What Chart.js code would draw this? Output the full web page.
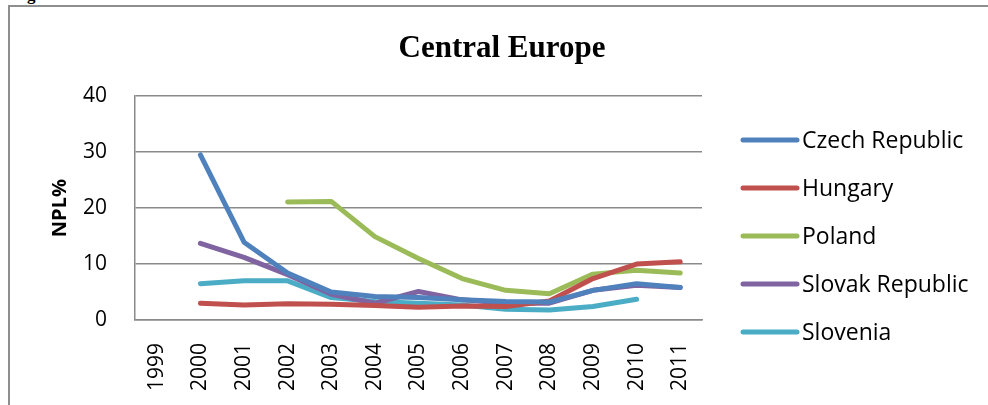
<html lang="en">

<head>
    <meta charset="UTF-8">
    <title>Central Europe</title>
    <script src="https://cdn.jsdelivr.net/npm/chart.js"></script>
    <style>
        body { margin: 0; overflow: hidden; background: #fff; }
    </style>
</head>

<body>
    <div style="position:absolute; left:12px; top:-15px; font:bold 17px 'Liberation Serif';">Figure</div>
    <div style="position:absolute; left:8px; top:5px; width:990px; height:410px; border-left:2px solid #8e8e8e; border-top:2px solid #8e8e8e;"></div>
    <canvas id="myChart" width="988" height="405" style="position:absolute; left:8px; top:0;"></canvas>
    <script>
        // 데이터
        const years = ['1999', '2000', '2001', '2002', '2003', '2004', '2005', '2006', '2007', '2008', '2009', '2010', '2011'];
        const czech = [null, 29.5, 13.9, 8.4, 5.0, 4.2, 4.0, 3.6, 3.3, 3.2, 5.3, 6.5, 5.8];
        const hungary = [null, 3.0, 2.7, 2.9, 2.8, 2.6, 2.3, 2.5, 2.4, 3.4, 7.4, 10.0, 10.4];
        const poland = [null, null, null, 21.1, 21.2, 14.9, 11.0, 7.4, 5.3, 4.7, 8.2, 8.9, 8.4];
        const slovak = [null, 13.7, 11.2, 8.1, 4.6, 3.0, 5.1, 3.6, 3.0, 3.0, 5.3, 6.2, 5.8];
        const slovenia = [null, 6.5, 7.0, 7.0, 4.0, 3.3, 3.0, 2.7, 1.9, 1.8, 2.4, 3.7, null];
        const yTicks = [0, 10, 20, 30, 40];

        const names = ['Czech Republic', 'Hungary', 'Poland', 'Slovak Republic', 'Slovenia'];
        const colors = ['#4F81BD', '#C0504D', '#9BBB59', '#8064A2', '#4BACC6'];
        const series = [czech, hungary, poland, slovak, slovenia];

        Chart.defaults.font.family = "'Open Sans'";
        Chart.defaults.color = '#000';

        // 오른쪽 범례 직접 그리기
        const sideLegend = {
            id: 'sideLegend',
            afterDraw(chart) {
                const ctx = chart.ctx;
                const x0 = chart.chartArea.right + 41;
                ctx.save();
                chart.data.datasets.forEach((ds, i) => {
                    const y = 140 + i * 48;
                    ctx.strokeStyle = ds.borderColor;
                    ctx.lineWidth = 5;
                    ctx.lineCap = 'round';
                    ctx.beginPath();
                    ctx.moveTo(x0, y);
                    ctx.lineTo(x0 + 54, y);
                    ctx.stroke();
                    ctx.fillStyle = '#000';
                    ctx.font = "23px 'Open Sans'";
                    ctx.textBaseline = 'middle';
                    ctx.fillText(ds.label, x0 + 59, y + 1);
                });
                ctx.restore();
            }
        };

        const data = {
            labels: years,
            datasets: series.map((s, i) => ({
                label: names[i],
                data: s,
                borderColor: colors[i],
                backgroundColor: colors[i],
                borderWidth: 5,
                borderJoinStyle: 'round',
                borderCapStyle: 'round',
                pointRadius: 0,
                tension: 0,
                spanGaps: false,
            }))
        };

        const options = {
            responsive: false,
            animation: false,
            layout: { padding: 0 },
            plugins: {
                legend: { display: false },
                tooltip: { enabled: false },
                title: {
                    display: true,
                    text: 'Central Europe',
                    color: '#000',
                    font: { family: "'Liberation Serif'", size: 31, weight: 'bold' },
                    padding: { top: 30, bottom: 29 }
                }
            },
            scales: {
                x: {
                    offset: true,
                    grid: { display: false, offset: true },
                    border: { display: true, color: '#8a8a8a', width: 1.5 },
                    ticks: {
                        autoSkip: false,
                        minRotation: 90,
                        maxRotation: 90,
                        padding: 15,
                        font: { size: 21 }
                    },
                    afterFit: (s) => { s.height = 85; }
                },
                y: {
                    min: 0,
                    max: 40,
                    afterBuildTicks: (s) => { s.ticks = yTicks.map(v => ({ value: v })); },
                    grid: { color: '#8a8a8a', lineWidth: 1.5, drawTicks: false },
                    border: { display: true, color: '#8a8a8a', width: 1.5 },
                    ticks: { padding: 28, font: { size: 21 } },
                    title: {
                        display: true,
                        text: 'NPL%',
                        font: { size: 20, weight: 'bold' },
                        padding: { top: 40, bottom: 0 }
                    },
                    afterFit: (s) => { s.width = 127; }
                },
                yr: {
                    position: 'right',
                    display: true,
                    grid: { display: false },
                    border: { display: false },
                    ticks: { display: false },
                    afterFit: (s) => { s.width = 294; }
                }
            }
        };

        new Chart(document.getElementById('myChart'), {
            type: 'line',
            data: data,
            options: options,
            plugins: [sideLegend]
        });
    </script>
</body>

</html>
